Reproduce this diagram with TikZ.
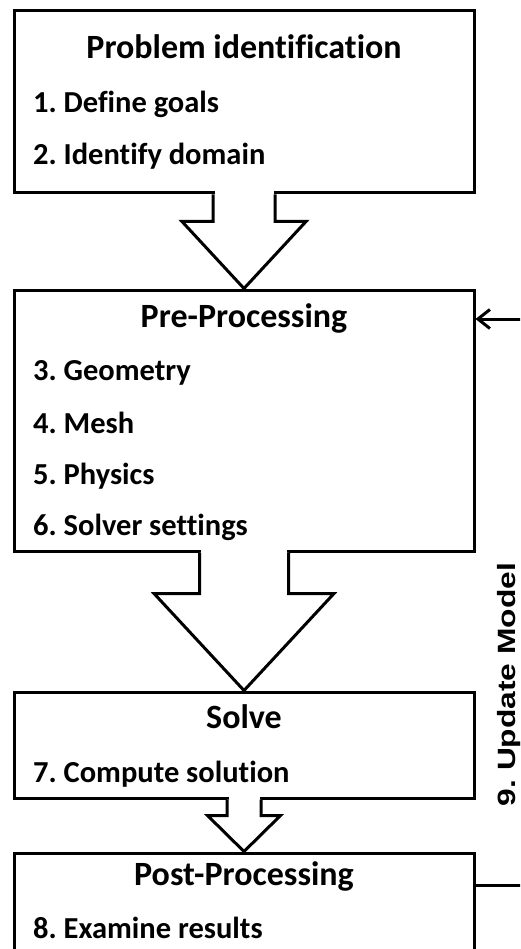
\documentclass[tikz,border=0pt]{standalone}
\usepackage{fontspec}
\setmainfont{Carlito}[Ligatures=NoCommon]
\newfontfamily\arialfont{Liberation Sans}
\usetikzlibrary{arrows.meta,calc}
\frenchspacing
\begin{document}
\begin{tikzpicture}[x=1pt,y=-1pt,
  boxstyle/.style={draw,line width=3pt,fill=white,rectangle,inner sep=0pt},
  blockarrow/.style={draw,line width=3pt,fill=white,line join=miter},
  ttl/.style={anchor=base,inner sep=0pt,font=\fontsize{34}{40}\selectfont\bfseries},
  itm/.style={anchor=base west,inner sep=0pt,font=\fontsize{30.5}{36}\selectfont\bfseries},
  fb/.style={line width=3pt}]
\useasboundingbox (0,0) rectangle (520,949);
\clip (0,0) rectangle (520,949);
% boxes
\node[boxstyle,minimum width=460pt,minimum height=182pt] (b1) at (244,102) {};
\node[boxstyle,minimum width=460pt,minimum height=261pt] (b2) at (244,420.5) {};
\node[boxstyle,minimum width=460pt,minimum height=106pt] (b3) at (244,745) {};
\node[boxstyle,minimum width=460pt,minimum height=200pt] (b4) at (244,953) {};
% block arrows
\fill[white] ($(b1.south)+(-29.5,-3)$) rectangle ($(b1.south)+(29.5,3)$);
\draw[blockarrow] ($(b1.south)+(-31,0)$) -- ++(0,27) -- ++(-31,0) -- (b2.north) -- ($(b1.south)+(62,27)$) -- ++(-31,0) -- ++(0,-27);
\fill[white] ($(b2.south)+(-43,-3)$) rectangle ($(b2.south)+(43,3)$);
\draw[blockarrow] ($(b2.south)+(-44.5,0)$) -- ++(0,41) -- ++(-45.5,0) -- (b3.north) -- ($(b2.south)+(90,41)$) -- ++(-45.5,0) -- ++(0,-41);
\fill[white] ($(b3.south)+(-15.5,-3)$) rectangle ($(b3.south)+(15.5,3)$);
\draw[blockarrow] ($(b3.south)+(-17,0)$) -- ++(0,16) -- ++(-19.5,0) -- (b4.north) -- ($(b3.south)+(36.5,16)$) -- ++(-19.5,0) -- ++(0,-16);
% texts
\node[ttl] (t1) at (244,59) {Problem identification};
\node[itm] (i1) at (33,113) {1. Define goals};
\node[itm] (i2) at (33,165) {2. Identify domain};
\node[ttl] (t2) at (244,327) {Pre-Processing};
\node[itm] (i3) at (33,380) {3. Geometry};
\node[itm] (i4) at (33,433) {4. Mesh};
\node[itm] (i5) at (33,484) {5. Physics};
\node[itm] (i6) at (33,535) {6. Solver settings};
\node[ttl] (t3) at (244,728) {Solve};
\node[itm] (i7) at (33,782) {7. Compute solution};
\node[ttl] (t4) at (244,885) {Post-Processing};
\node[itm] (i8) at (33,938) {8. Examine results};
% feedback
\coordinate (fbr) at (545,0);
\draw[fb,-{Straight Barb[length=12pt,width=19pt,line width=3pt]}] (b4.east |- 0,885) -| (fbr) |- (b2.east |- 0,319);
\node[rotate=90,anchor=base,inner sep=0pt,font=\arialfont\fontsize{25}{28}\selectfont\bfseries] (upd) at (515,684.5) {\scalebox{1.27}[1]{9. Update Model}};
\end{tikzpicture}
\end{document}
